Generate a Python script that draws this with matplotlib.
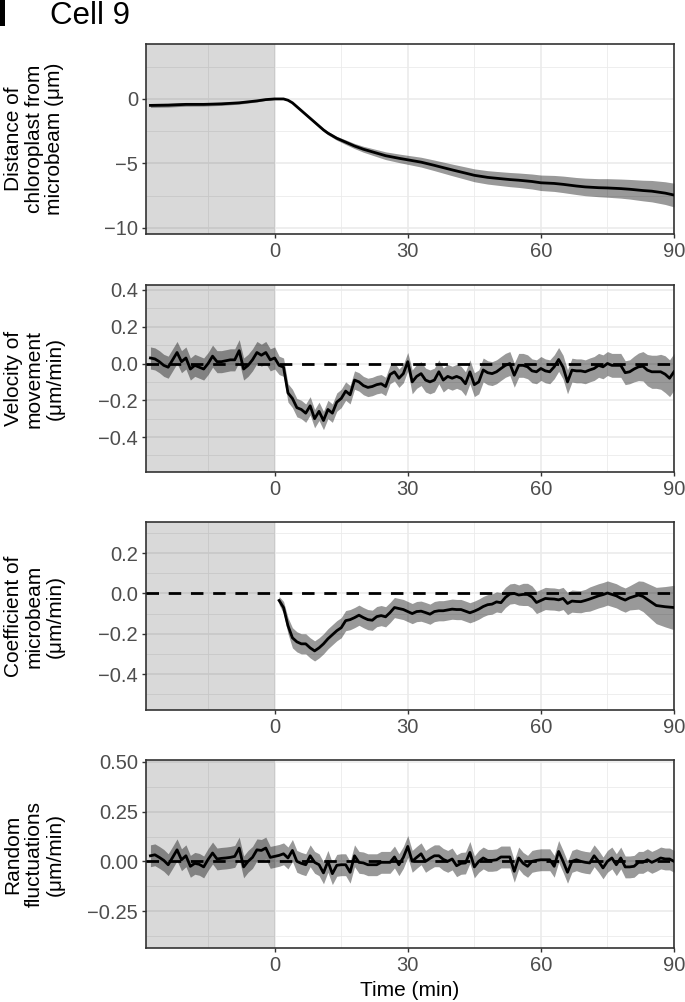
import matplotlib
matplotlib.use('Agg')
import matplotlib.pyplot as plt
import numpy as np
from matplotlib.patches import Rectangle

plt.rcParams['font.family'] = ['Liberation Sans', 'DejaVu Sans']

# ---------------- data ----------------
title = "Cell 9"
xlabel = "Time (min)"
ylabels = ["Distance of\nchloroplast from\nmicrobeam (μm)",
           "Velocity of\nmovement\n(μm/min)",
           "Coefficient of\nmicrobeam\n(μm/min)",
           "Random\nfluctuations\n(μm/min)"]

# Panel 1: distance (smooth curve)
t1 = [-28, -24, -20, -16, -12, -8, -4, -2, 0, 2, 3, 4, 5, 6, 7, 8, 9, 10, 11, 12, 13, 14,
      16, 18, 20, 22, 25, 28, 30, 33, 36, 40, 43, 45, 48, 50, 53, 55, 58, 60, 63, 65, 68,
      70, 73, 75, 78, 80, 83, 85, 88, 90]
dist = [-0.5, -0.48, -0.42, -0.42, -0.38, -0.3, -0.15, -0.05, 0.0, 0.0, -0.1, -0.3, -0.6,
        -0.9, -1.2, -1.5, -1.8, -2.1, -2.4, -2.65, -2.85, -3.05, -3.35, -3.65, -3.9, -4.1,
        -4.4, -4.6, -4.72, -4.9, -5.15, -5.5, -5.75, -5.92, -6.08, -6.15, -6.25, -6.3, -6.4,
        -6.5, -6.55, -6.62, -6.75, -6.82, -6.88, -6.9, -6.95, -7.0, -7.1, -7.15, -7.3, -7.45]
dist_se = [0.15, 0.15, 0.14, 0.13, 0.12, 0.1, 0.08, 0.06, 0.04, 0.04, 0.05, 0.06, 0.07,
           0.08, 0.09, 0.1, 0.1, 0.11, 0.12, 0.13, 0.14, 0.15, 0.18, 0.2, 0.23, 0.26,
           0.3, 0.33, 0.35, 0.38, 0.41, 0.45, 0.48, 0.5, 0.52, 0.53, 0.55, 0.56, 0.58,
           0.6, 0.62, 0.64, 0.66, 0.68, 0.7, 0.72, 0.74, 0.76, 0.8, 0.83, 0.88, 0.92]

# Panel 2: velocity (1-min steps, -28..90)
t2 = list(range(-28, 91))
vel = [0.03, 0.025, 0.01, -0.01, -0.02, 0.02, 0.06, 0.01, 0.03, -0.03, -0.01, -0.02, -0.03,
       0.0, 0.04, 0.01, 0.01, 0.015, 0.02, 0.02, 0.07, -0.03, -0.01, 0.02, 0.06, 0.045,
       0.06, 0.02, 0.03,
       -0.01, -0.02, -0.16, -0.19, -0.24, -0.25, -0.27, -0.23, -0.30, -0.26,
       -0.31, -0.25, -0.27, -0.21, -0.19, -0.15, -0.17, -0.09, -0.10, -0.12,
       -0.13, -0.125, -0.115, -0.11, -0.125, -0.06, -0.045, -0.08, -0.055, 0.01,
       -0.10, -0.07, -0.055, -0.09, -0.10, -0.09, -0.045, -0.09, -0.07, -0.08,
       -0.07, -0.08, -0.11, -0.045, -0.115, -0.10, -0.035, -0.05, -0.055, -0.045,
       -0.027, -0.01, 0.0, -0.064, -0.01, -0.01, -0.018, -0.04, -0.045, -0.027,
       -0.04, -0.045, -0.018, 0.022, -0.02, -0.1, -0.036, -0.04, -0.04, -0.045,
       -0.035, -0.027, -0.01, -0.018, 0.0, -0.01, -0.01, -0.01, -0.05, -0.045,
       -0.03, -0.018, -0.015, -0.036, -0.045, -0.045, -0.045, -0.058, -0.08, -0.045]
vel_se = [0.06] * 29 + [0.05] * 30 + [0.065] * 50 + [0.07, 0.075, 0.08, 0.085, 0.09,
          0.09, 0.095, 0.1, 0.1, 0.1]

# Panel 3: coefficient of microbeam (1-min steps, 1..90)
t3 = list(range(1, 91))
coef = [-0.035, -0.07, -0.16, -0.22, -0.24, -0.25, -0.25, -0.27, -0.285, -0.27,
        -0.25, -0.225, -0.205, -0.185, -0.17, -0.135, -0.13, -0.12, -0.108, -0.12,
        -0.13, -0.133, -0.115, -0.11, -0.116, -0.095, -0.07, -0.075, -0.08, -0.09,
        -0.1, -0.09, -0.088, -0.095, -0.103, -0.09, -0.086, -0.086, -0.082, -0.078,
        -0.08, -0.08, -0.088, -0.096, -0.088, -0.078, -0.065, -0.056, -0.053, -0.042,
        -0.046, -0.02, -0.003, 0.0, -0.008, -0.005, -0.005, -0.018, -0.045, -0.035,
        -0.025, -0.027, -0.028, -0.032, -0.025, -0.05, -0.038, -0.04, -0.041, -0.035,
        -0.028, -0.02, -0.012, -0.006, 0.002, -0.005, -0.012, -0.024, -0.033, -0.022,
        -0.015, -0.008, -0.015, -0.03, -0.045, -0.06, -0.063, -0.066, -0.068, -0.07]
coef_se = [0.02, 0.03, 0.04] + [0.05] * 52 + [0.055] * 15 + [0.06] * 10 + \
          [0.065, 0.07, 0.075, 0.08, 0.085, 0.09, 0.095, 0.1, 0.105, 0.11]

# Panel 4: random fluctuations (1-min steps, -28..90)
t4 = list(range(-28, 91))
rand = [0.028, 0.033, 0.02, 0.005, -0.017, 0.02, 0.058, 0.008, 0.028, -0.025, -0.01,
        -0.015, -0.028, 0.01, 0.042, 0.012, 0.015, 0.017, 0.02, 0.025, 0.067, -0.028,
        0.0, 0.02, 0.058, 0.055, 0.067, 0.02, 0.025,
        0.03, 0.038, 0.017, 0.055, 0.0, -0.01, -0.017, 0.028, -0.005, -0.017,
        -0.058, 0.0, -0.062, -0.02, -0.017, -0.017, -0.055, 0.028, -0.005, -0.008,
        -0.017, -0.017, -0.017, -0.005, -0.005, -0.005, 0.022, -0.017, 0.02, 0.075,
        0.0, 0.02, 0.038, 0.0, 0.015, 0.028, 0.028, 0.01, 0.0, 0.012,
        -0.022, -0.01, -0.008, 0.045, -0.028, 0.0, 0.017, 0.005, 0.005, 0.008,
        0.022, 0.022, 0.022, -0.05, 0.017, -0.01, -0.025, 0.0, 0.005, 0.008,
        0.008, 0.008, -0.025, 0.05, 0.0, -0.055, 0.0, 0.008, 0.0, -0.005,
        -0.008, 0.028, 0.0, -0.033, 0.0, 0.017, -0.017, 0.017, -0.028, -0.028,
        -0.025, -0.005, -0.005, 0.008, -0.005, 0.005, 0.017, 0.012, 0.012, 0.0]
rand_se = [0.055] * 119

xlim = (-29, 90)
xticks = [0, 30, 60, 90]
xminor = [-15, 15, 45, 75]
ylims = [(-10.47, 4.26), (-0.59, 0.427), (-0.578, 0.354), (-0.436, 0.51)]
yticks = [[0, -5, -10], [0.4, 0.2, 0.0, -0.2, -0.4], [0.2, 0.0, -0.2, -0.4],
          [0.5, 0.25, 0.0, -0.25]]
yticklabels = [["0", "\u22125", "\u221210"],
               ["0.4", "0.2", "0.0", "\u22120.2", "\u22120.4"],
               ["0.2", "0.0", "\u22120.2", "\u22120.4"],
               ["0.50", "0.25", "0.00", "\u22120.25"]]
yminor = [[2.5, -2.5, -7.5], [0.3, 0.1, -0.1, -0.3, -0.5], [0.3, 0.1, -0.1, -0.3, -0.5],
          [0.375, 0.125, -0.125, -0.375]]
series = [(t1, dist, dist_se, False), (t2, vel, vel_se, True), (t3, coef, coef_se, True),
          (t4, rand, rand_se, True)]

# ---------------- plot ----------------
W, H = 685, 1002
fig = plt.figure(figsize=(W / 100, H / 100), dpi=100)
panels = [(44, 234), (285, 472), (522, 710), (760, 948)]
left, right = 146, 674

for i, (top, bot) in enumerate(panels):
    ax = fig.add_axes([left / W, 1 - bot / H, (right - left) / W, (bot - top) / H])
    t, y, se, hline = series[i]
    t = np.array(t, float); y = np.array(y, float); se = np.array(se, float)
    ax.set_xlim(*xlim)
    ax.set_ylim(*ylims[i])
    ax.set_axisbelow(True)
    ax.set_xticks(xticks)
    ax.set_xticklabels([str(v) for v in xticks])
    ax.set_xticks(xminor, minor=True)
    ax.set_yticks(yticks[i])
    ax.set_yticklabels(yticklabels[i])
    ax.set_yticks(yminor[i], minor=True)
    ax.grid(which='major', color='#ebebeb', lw=1.2)
    ax.grid(which='minor', color='#ebebeb', lw=0.6)
    ax.tick_params(which='major', length=3.2, width=1.0, color='#333333',
                   labelsize=14.5, labelcolor='#4d4d4d', pad=2.5)
    ax.tick_params(which='minor', length=0)
    for s in ax.spines.values():
        s.set_color('#333333')
        s.set_linewidth(1.2)
    ax.axvspan(xlim[0], 0, color='black', alpha=0.15, lw=0, zorder=1)
    ax.fill_between(t, y - se, y + se, color='black', alpha=0.4, lw=0, zorder=2)
    if hline:
        ax.axhline(0, color='black', lw=2.0, dashes=(4.5, 3.5), zorder=3)
    ax.plot(t, y, color='black', lw=2.0, zorder=4, solid_joinstyle='round')
    fig.text(34 / W, 1 - (top + bot) / 2 / H, ylabels[i], rotation=90, ha='center',
             va='center', multialignment='center', fontsize=15, linespacing=1.12,
             color='black')

fig.text(410 / W, 1 - 990 / H, xlabel, ha='center', va='center', fontsize=15)
fig.text(50 / W, 1 - 16 / H, title, ha='left', va='center', fontsize=22.5)
fig.patches.append(Rectangle((0, 1 - 26 / H), 5 / W, 26 / H, transform=fig.transFigure,
                             color='black', lw=0))

fig.savefig('out.png', dpi=100)
